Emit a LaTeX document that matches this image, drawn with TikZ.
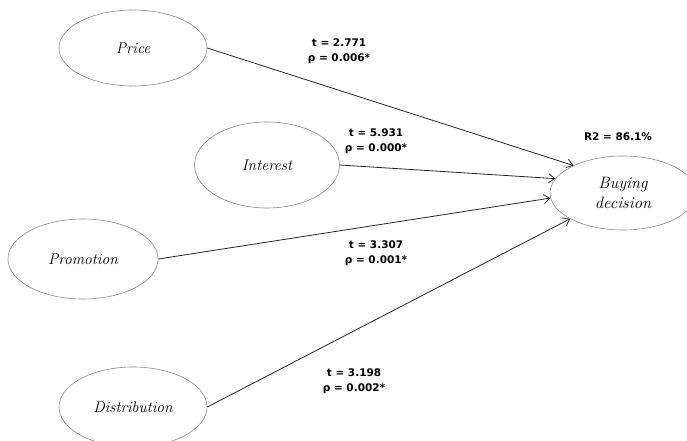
\documentclass[tikz,border=0pt]{standalone}
\usepackage{fontspec}
\newfontfamily\labelfont{DejaVu Sans}
\usetikzlibrary{shapes.geometric,arrows.meta}
\begin{document}
\begin{tikzpicture}[x=1pt,y=-1pt,
  construct/.style={ellipse,draw=black!45,line width=0.6pt,inner sep=0pt,
    minimum width=148pt,minimum height=76pt,font=\fontsize{15.5}{17}\selectfont\itshape,align=center},
  path/.style={draw=black!85,line width=0.8pt,-{Straight Barb[length=6pt,width=9pt]}},
  stat/.style={font=\labelfont\bfseries\fontsize{10.5}{15.5}\selectfont,align=center,inner sep=0pt}]
  \useasboundingbox (0,0) rectangle (687,441);
  % latent constructs
  \node[construct] (price) at (133,48) {Price};
  \node[construct,minimum width=145pt,minimum height=86pt] (interest) at (267,165) {Interest};
  \node[construct,minimum width=150pt,minimum height=80pt] (promotion) at (83,259) {Promotion};
  \node[construct,minimum width=148pt,minimum height=80pt] (distribution) at (133,407) {Distribution};
  \node[construct,minimum width=146pt,minimum height=74pt,font=\fontsize{16.5}{20}\selectfont\itshape] (buying) at (623,193) {Buying\\decision};
  % structural paths
  \draw[path] (price.east) -- (buying.151);
  \draw[path] (interest.east) -- (buying.168);
  \draw[path] (promotion.east) -- (buying.184);
  \draw[path] (distribution.east) -- (buying.206);
  % path coefficients
  \node[stat] (sPrice) at (339,51) {t = 2.771\\ρ = 0.006*};
  \node[stat] (sInterest) at (376,141) {t = 5.931\\ρ = 0.000*};
  \node[stat] (sPromotion) at (376,253) {t = 3.307\\ρ = 0.001*};
  \node[stat] (sDistribution) at (354,381) {t = 3.198\\ρ = 0.002*};
  \node[stat] (rsq) at (618,137) {R2 = 86.1\%};
\end{tikzpicture}
\end{document}
